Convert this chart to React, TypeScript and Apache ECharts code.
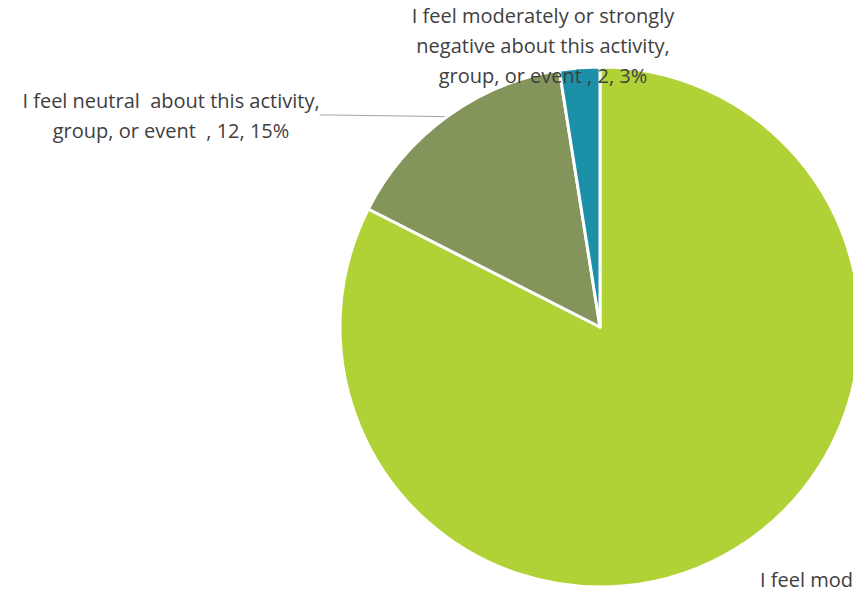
import React, { useEffect, useRef } from "react";
import * as echarts from "echarts";

const categories = [
  "I feel moderately or strongly positive about this activity, group, or event ",
  "I feel neutral  about this activity, group, or event ",
  "I feel moderately or strongly negative about this activity, group, or event ",
];
const values = [66, 12, 2];
const percents = ["83%", "15%", "3%"];
const labelLines = [
  ["I feel moderately or strongly", "positive about this activity,", "group, or event , 66, 83%"],
  ["I feel neutral  about this activity,", "group, or event  , 12, 15%"],
  ["I feel moderately or strongly", "negative about this activity,", "group, or event , 2, 3%"],
];
const colors = ["#B0D236", "#84955C", "#1B90A6"];

export default function App() {
  const ref = useRef<HTMLDivElement>(null);
  useEffect(() => {
    document.body.style.margin = "0";
    const chart = echarts.init(ref.current!, null, { renderer: "svg" });
    const layouts = [
      { x: 760, y: 564, align: "left", verticalAlign: "top" },
      { x: 171, y: 115, align: "center", verticalAlign: "middle" },
      { x: 543, y: 45, align: "center", verticalAlign: "middle" },
    ];
    chart.setOption({
      animation: false,
      backgroundColor: "#ffffff",
      series: [
        {
          type: "pie",
          center: [600, 327],
          radius: 260,
          startAngle: 90,
          clockwise: true,
          avoidLabelOverlap: false,
          data: categories.map((c, i) => ({
            name: c,
            value: values[i],
            itemStyle: { color: colors[i] },
            label: {
              formatter: labelLines[i].join("\n"),
            },
            labelLine: { show: i === 1 },
          })),
          itemStyle: { borderColor: "#ffffff", borderWidth: 3 },
          label: {
            show: true,
            position: "outside",
            color: "#404040",
            fontFamily: "Open Sans",
            fontSize: 20,
            lineHeight: 30,
          },
          labelLine: {
            show: true,
            lineStyle: { color: "#A6A6A6", width: 1 },
            length: 10,
            length2: 10,
          },
          labelLayout: (params: any) => {
            const l = layouts[params.dataIndex];
            return {
              x: l.x,
              y: l.y,
              align: l.align,
              verticalAlign: l.verticalAlign,
            };
          },
        },
      ],
    });
    return () => chart.dispose();
  }, []);
  return <div ref={ref} style={{ width: 853, height: 594 }} />;
}
